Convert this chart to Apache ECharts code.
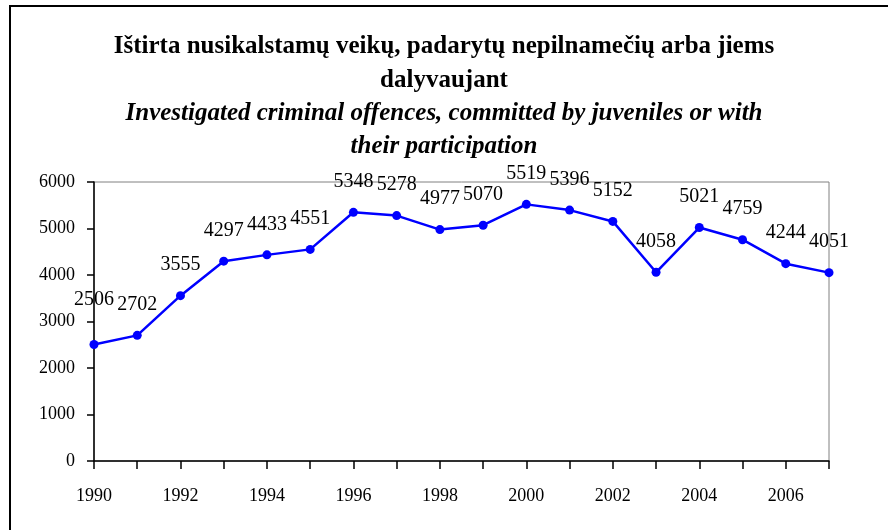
<!DOCTYPE html>
<html><head><meta charset="utf-8">
<script src="https://cdn.jsdelivr.net/npm/echarts@6/dist/echarts.min.js"></script>
<style>html,body{margin:0;padding:0;background:#fff}#c{width:888px;height:530px}</style>
</head><body><div id="c"></div>
<script>
const titleLt = ["Ištirta nusikalstamų veikų, padarytų nepilnamečių arba jiems", "dalyvaujant"];
const titleEn = ["Investigated criminal offences, committed by juveniles or with", "their participation"];
const years = ["1990","1991","1992","1993","1994","1995","1996","1997","1998","1999","2000","2001","2002","2003","2004","2005","2006","2007"];
const offences = [2506,2702,3555,4297,4433,4551,5348,5278,4977,5070,5519,5396,5152,4058,5021,4759,4244,4051];
const yTicks = [0,1000,2000,3000,4000,5000,6000];

const chart = echarts.init(document.getElementById('c'), null, {renderer:'canvas'});
const serif = '"Liberation Serif", "DejaVu Serif", serif';
const data = offences.map((v,i)=> i===0 ? {value:v, label:{distance:30}} : v);
chart.setOption({
  animation:false,
  backgroundColor:'#fff',
  graphic:[
    {type:'rect', shape:{x:10,y:6,width:900,height:540}, style:{fill:'none', stroke:'#000', lineWidth:2}, z:100},
    {type:'text', left:'center', top:34, style:{text:titleLt[0], font:'bold 25px '+serif, fill:'#000'}},
    {type:'text', left:'center', top:68, style:{text:titleLt[1], font:'bold 25px '+serif, fill:'#000'}},
    {type:'text', left:'center', top:101, style:{text:titleEn[0], font:'italic bold 25px '+serif, fill:'#000'}},
    {type:'text', left:'center', top:134, style:{text:titleEn[1], font:'italic bold 25px '+serif, fill:'#000'}}
  ],
  grid:{left:94, right:59, top:182, bottom:69, show:true, borderColor:'#808080', borderWidth:1, containLabel:false},
  xAxis:{type:'category', data:years, boundaryGap:false,
    axisLine:{lineStyle:{color:'#000', width:1.5}},
    axisTick:{show:true, interval:0, length:8, lineStyle:{color:'#000', width:1.5}},
    axisLabel:{interval:1, margin:26, fontFamily:serif, fontSize:18, color:'#000'},
    splitLine:{show:false}},
  yAxis:{type:'value', min:yTicks[0], max:yTicks[yTicks.length-1], interval:1000,
    axisLine:{show:true, lineStyle:{color:'#000', width:1.5}},
    axisTick:{show:true, length:7, lineStyle:{color:'#000', width:1.5}},
    axisLabel:{margin:19, fontFamily:serif, fontSize:18, color:'#000', formatter:v=>String(v)},
    splitLine:{show:false}},
  series:[{type:'line', data:data, symbol:'circle', symbolSize:9,
    lineStyle:{color:'#0000ff', width:2.5}, itemStyle:{color:'#0000ff'},
    label:{show:true, position:'top', distance:16, fontFamily:serif, fontSize:20, color:'#000'}}]
});
</script></body></html>
